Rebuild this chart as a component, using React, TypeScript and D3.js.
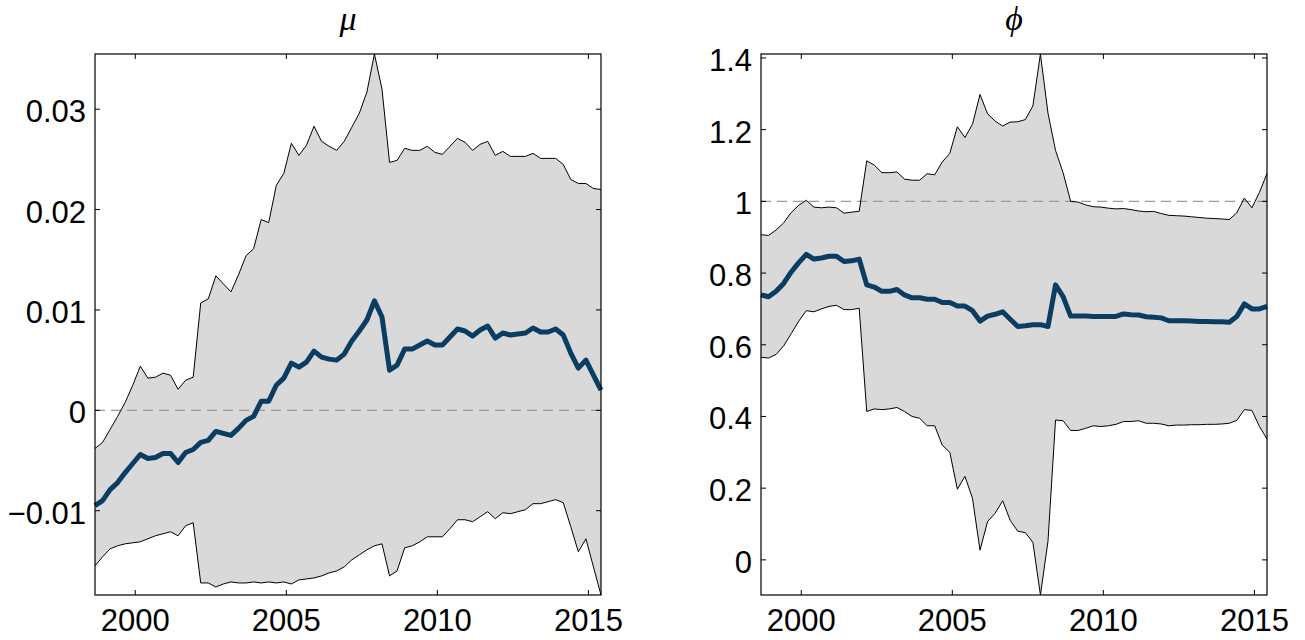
import React from 'react';
import * as d3 from 'd3';

// quarterly observations, Sep 1998 .. Jun 2015
const START = 1998 + 8 / 12;
const N = 68;
const dates = d3.range(N).map((k) => START + k * 0.25);

const muUpper = [
  -0.0038, -0.0032, -0.0019, -0.0006, 0.0008, 0.0025, 0.0044, 0.0032, 0.0033, 0.0037,
  0.0035, 0.0021, 0.0030, 0.0033, 0.0107, 0.0111, 0.0134, 0.0126, 0.0118, 0.0135,
  0.0154, 0.0161, 0.0190, 0.0187, 0.0224, 0.0236, 0.0266, 0.0254, 0.0264, 0.0283,
  0.0268, 0.0263, 0.0259, 0.0268, 0.0282, 0.0296, 0.0317, 0.0355, 0.0320, 0.0247,
  0.0249, 0.0261, 0.0259, 0.0259, 0.0263, 0.0257, 0.0255, 0.0263, 0.0271, 0.0267,
  0.0259, 0.0265, 0.0268, 0.0254, 0.0258, 0.0253, 0.0253, 0.0253, 0.0256, 0.0251,
  0.0251, 0.0251, 0.0245, 0.0230, 0.0226, 0.0226, 0.0221, 0.0220,
];
const muMean = [
  -0.0095, -0.0090, -0.0079, -0.0072, -0.0062, -0.0053, -0.0044, -0.0048, -0.0047, -0.0043,
  -0.0043, -0.0052, -0.0042, -0.0039, -0.0032, -0.0030, -0.0021, -0.0023, -0.0025, -0.0018,
  -0.0010, -0.0006, 0.0009, 0.0009, 0.0025, 0.0032, 0.0047, 0.0043, 0.0048, 0.0059,
  0.0053, 0.0051, 0.0050, 0.0056, 0.0069, 0.0079, 0.0090, 0.0109, 0.0093, 0.0040,
  0.0045, 0.0061, 0.0061, 0.0065, 0.0069, 0.0065, 0.0065, 0.0073, 0.0081, 0.0079,
  0.0074, 0.0080, 0.0084, 0.0072, 0.0077, 0.0075, 0.0076, 0.0077, 0.0082, 0.0078,
  0.0078, 0.0081, 0.0075, 0.0057, 0.0042, 0.0050, 0.0035, 0.0020,
];
const muLower = [
  -0.0155, -0.0146, -0.0138, -0.0135, -0.0133, -0.0132, -0.0131, -0.0128, -0.0125, -0.0123,
  -0.0121, -0.0125, -0.0115, -0.0112, -0.0172, -0.0172, -0.0176, -0.0173, -0.0171, -0.0172,
  -0.0172, -0.0171, -0.0172, -0.0171, -0.0172, -0.0171, -0.0173, -0.0169, -0.0168, -0.0167,
  -0.0165, -0.0162, -0.0160, -0.0156, -0.0149, -0.0144, -0.0139, -0.0135, -0.0133, -0.0165,
  -0.0160, -0.0137, -0.0135, -0.0131, -0.0126, -0.0126, -0.0126, -0.0118, -0.0109, -0.0109,
  -0.0111, -0.0106, -0.0101, -0.0108, -0.0102, -0.0103, -0.0101, -0.0099, -0.0093, -0.0093,
  -0.0091, -0.0089, -0.0092, -0.0116, -0.0141, -0.0128, -0.0156, -0.0184,
];

const phiUpper = [
  0.907, 0.905, 0.920, 0.940, 0.969, 0.989, 1.003, 0.984, 0.982, 0.984,
  0.982, 0.967, 0.970, 0.972, 1.113, 1.101, 1.080, 1.080, 1.082, 1.062,
  1.059, 1.059, 1.077, 1.074, 1.110, 1.134, 1.208, 1.178, 1.215, 1.298,
  1.244, 1.224, 1.210, 1.221, 1.222, 1.228, 1.266, 1.411, 1.246, 1.142,
  1.080, 1.000, 0.998, 0.990, 0.985, 0.984, 0.981, 0.979, 0.980, 0.977,
  0.973, 0.971, 0.972, 0.966, 0.961, 0.960, 0.959, 0.957, 0.955, 0.953,
  0.952, 0.951, 0.949, 0.968, 1.009, 0.982, 1.025, 1.078,
];
const phiMean = [
  0.739, 0.734, 0.749, 0.771, 0.803, 0.829, 0.852, 0.839, 0.842, 0.847,
  0.847, 0.832, 0.834, 0.839, 0.767, 0.761, 0.749, 0.749, 0.754, 0.739,
  0.731, 0.731, 0.727, 0.727, 0.718, 0.718, 0.708, 0.708, 0.695, 0.666,
  0.680, 0.685, 0.692, 0.671, 0.651, 0.653, 0.656, 0.656, 0.651, 0.767,
  0.734, 0.680, 0.680, 0.680, 0.679, 0.679, 0.679, 0.679, 0.686, 0.684,
  0.683, 0.678, 0.677, 0.675, 0.667, 0.667, 0.667, 0.666, 0.665, 0.665,
  0.664, 0.664, 0.663, 0.679, 0.714, 0.700, 0.700, 0.707,
];
const phiLower = [
  0.565, 0.563, 0.573, 0.597, 0.631, 0.666, 0.695, 0.692, 0.700, 0.707,
  0.710, 0.698, 0.698, 0.702, 0.414, 0.421, 0.419, 0.421, 0.425, 0.414,
  0.400, 0.395, 0.374, 0.374, 0.320, 0.300, 0.197, 0.233, 0.172, 0.027,
  0.107, 0.130, 0.165, 0.110, 0.080, 0.076, 0.049, -0.098, 0.052, 0.390,
  0.388, 0.361, 0.361, 0.367, 0.374, 0.372, 0.374, 0.378, 0.386, 0.386,
  0.388, 0.381, 0.381, 0.379, 0.374, 0.376, 0.376, 0.377, 0.377, 0.378,
  0.378, 0.379, 0.381, 0.389, 0.419, 0.417, 0.372, 0.337,
];

const xTicks = [2000, 2005, 2010, 2015];
const muTicks = [-0.01, 0, 0.01, 0.02, 0.03];
const phiTicks = [0, 0.2, 0.4, 0.6, 0.8, 1, 1.2, 1.4];
const muRef = 0;
const phiRef = 1;

const W = 1305;
const H = 640;
const TOP = 54;
const BOTTOM = 595;
const PW = 506;
const TICK = 5;
const FILL = '#d9d9d9';
const MEAN = '#0b3d63';
const LABEL_FONT = '"Liberation Sans", Arial, Helvetica, sans-serif';
const LABEL_SIZE = 31;
const TITLE_FONT = '"Liberation Serif", "Times New Roman", "DejaVu Serif", serif';

const fmt = (v: number) => {
  if (v === 0) return '0';
  const s = String(+v.toFixed(4));
  return s.replace('-', '\u2212');
};

type PanelProps = {
  left: number;
  title: string;
  upper: number[];
  mean: number[];
  lower: number[];
  yTicks: number[];
  refValue: number;
};

function Panel({ left, title, upper, mean, lower, yTicks, refValue }: PanelProps) {
  const x = d3
    .scaleLinear()
    .domain([dates[0], dates[dates.length - 1]])
    .range([left, left + PW]);
  const y = d3
    .scaleLinear()
    .domain([d3.min(lower) as number, d3.max(upper) as number])
    .range([BOTTOM, TOP]);

  const idx = d3.range(dates.length);
  const area = d3
    .area<number>()
    .x((i) => x(dates[i]))
    .y0((i) => y(lower[i]))
    .y1((i) => y(upper[i]));
  const line = (vals: number[]) =>
    d3
      .line<number>()
      .x((i) => x(dates[i]))
      .y((i) => y(vals[i]))(idx) as string;

  const x0 = left;
  const x1 = left + PW;

  return (
    <g>
      <path d={area(idx) as string} fill={FILL} stroke="none" />
      <line
        x1={x0}
        x2={x1}
        y1={y(refValue)}
        y2={y(refValue)}
        stroke="#999"
        strokeWidth={1.2}
        strokeDasharray="10,6"
      />
      <path d={line(upper)} fill="none" stroke="#000" strokeWidth={1} strokeLinejoin="round" />
      <path d={line(lower)} fill="none" stroke="#000" strokeWidth={1} strokeLinejoin="round" />
      <path d={line(mean)} fill="none" stroke={MEAN} strokeWidth={5} strokeLinejoin="round" />

      <rect x={x0} y={TOP} width={PW} height={BOTTOM - TOP} fill="none" stroke="#000" strokeWidth={1.2} />

      {xTicks.map((t) => (
        <g key={'x' + t}>
          <line x1={x(t)} x2={x(t)} y1={BOTTOM} y2={BOTTOM - TICK} stroke="#000" strokeWidth={1} />
          <line x1={x(t)} x2={x(t)} y1={TOP} y2={TOP + TICK} stroke="#000" strokeWidth={1} />
          <text
            x={x(t)}
            y={BOTTOM + 35.5}
            textAnchor="middle"
            fontFamily={LABEL_FONT}
            fontSize={LABEL_SIZE}
            fill="#000"
          >
            {t}
          </text>
        </g>
      ))}

      {yTicks.map((t) => (
        <g key={'y' + t}>
          <line x1={x0} x2={x0 + TICK} y1={y(t)} y2={y(t)} stroke="#000" strokeWidth={1} />
          <line x1={x1} x2={x1 - TICK} y1={y(t)} y2={y(t)} stroke="#000" strokeWidth={1} />
          <text
            x={x0 - 9}
            y={y(t) + 13}
            textAnchor="end"
            fontFamily={LABEL_FONT}
            fontSize={LABEL_SIZE}
            fill="#000"
          >
            {fmt(t)}
          </text>
        </g>
      ))}

      <text
        x={(x0 + x1) / 2}
        y={30}
        textAnchor="middle"
        fontFamily={TITLE_FONT}
        fontStyle="italic"
        fontSize={34}
        fill="#000"
      >
        {title}
      </text>
    </g>
  );
}

export default function App() {
  return (
    <svg
      width={W}
      height={H}
      viewBox={`0 0 ${W} ${H}`}
      style={{ position: 'absolute', left: 0, top: 0, background: '#fff' }}
    >
      <rect x={0} y={0} width={W} height={H} fill="#fff" />
      <Panel left={95} title={'\u03BC'} upper={muUpper} mean={muMean} lower={muLower} yTicks={muTicks} refValue={muRef} />
      <Panel left={761} title={'\u03D5'} upper={phiUpper} mean={phiMean} lower={phiLower} yTicks={phiTicks} refValue={phiRef} />
    </svg>
  );
}
